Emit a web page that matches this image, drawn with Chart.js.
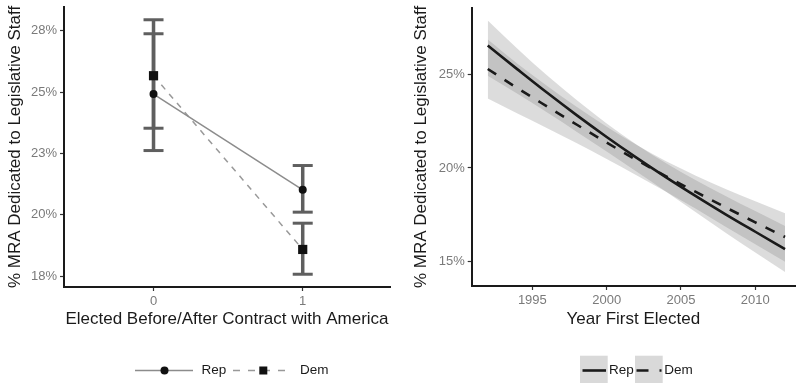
<!DOCTYPE html>
<html>
<head>
<meta charset="utf-8">
<script src="https://cdn.jsdelivr.net/npm/chart.js@4.4.1/dist/chart.umd.min.js"></script>
<style>
  body { margin: 0; background: #fff; }
  canvas { position: absolute; top: 0; }
  #left { left: 0; }
  #right { left: 398px; }
</style>
</head>
<body>
<canvas id="left" width="398" height="383"></canvas>
<canvas id="right" width="398" height="383"></canvas>
<script>
// left panel: before/after Contract with America (0 / 1)
const groups = [0, 1]
const repMean = [24.92, 21.02]
const repLow = [22.62, 20.11]
const repHigh = [27.38, 22.01]
const demMean = [25.67, 18.59]
const demLow = [23.53, 17.58]
const demHigh = [27.95, 19.66]
const leftTicks = [17.5, 20, 22.5, 25, 27.5]
const leftTickLabels = ['18%', '20%', '23%', '25%', '28%']

// right panel: by year first elected
const years = [1992, 1994, 1996, 1998, 2000, 2002, 2004, 2006, 2008, 2010, 2012]
const repFit = [26.52, 25.25, 24.0, 22.8, 21.65, 20.55, 19.5, 18.5, 17.53, 16.6, 15.68]
const repUpper = [27.86, 26.35, 24.92, 23.6, 22.37, 21.25, 20.25, 19.35, 18.51, 17.7, 16.91]
const repLower = [24.91, 23.95, 22.95, 21.92, 20.87, 19.81, 18.73, 17.64, 16.55, 15.5, 14.46]
const demFit = [25.27, 24.25, 23.27, 22.3, 21.35, 20.43, 19.55, 18.72, 17.9, 17.1, 16.32]
const demUpper = [26.84, 25.55, 24.37, 23.25, 22.2, 21.23, 20.35, 19.59, 18.88, 18.22, 17.59]
const demLower = [23.7, 22.9, 22.12, 21.32, 20.48, 19.61, 18.73, 17.82, 16.87, 15.93, 15.0]
const yearTicks = [1995, 2000, 2005, 2010]
const rightTicks = [15, 20, 25]
const rightTickLabels = ['15%', '20%', '25%']

const FONT = "'Liberation Sans', Arial, sans-serif"
const TITLE = '% MRA Dedicated to Legislative Staff'
const ERR = '#5f5f5f'
const BAND = 'rgba(128,128,128,0.28)'

const axisBase = (tickValues, labels) => ({
  type: 'linear',
  afterBuildTicks: s => { s.ticks = tickValues.map(v => ({ value: v })) },
  grid: { drawOnChartArea: false, drawTicks: true, tickLength: 4, tickColor: '#333', tickWidth: 1.2 },
  border: { display: true, color: '#1a1a1a', width: 2 },
  ticks: {
    color: '#7a7a7a', font: { family: FONT, size: 13 }, padding: 3,
    callback: v => labels ? labels[tickValues.indexOf(v)] : String(v)
  }
})

const toPoints = (xs, ys) => xs.map((x, i) => ({ x: x, y: ys[i] }))

const errorBars = (lo, hi) => groups.map((g, i) => ({
  data: [{ x: g, y: lo[i] }, { x: g, y: hi[i] }],
  showLine: true,
  borderColor: ERR,
  borderWidth: 3.5,
  pointStyle: 'line',
  pointRadius: 10,
  pointHoverRadius: 10,
  pointBorderWidth: 3,
  pointBorderColor: ERR
}))

function text (ctx, str, x, y) {
  ctx.fillStyle = '#1a1a1a'
  ctx.font = '13.5px ' + FONT
  ctx.textAlign = 'left'
  ctx.textBaseline = 'middle'
  ctx.fillText(str, x, y)
}

const leftLegend = {
  id: 'leftLegend',
  afterDraw (chart) {
    const ctx = chart.ctx
    const y = 370.5
    ctx.save()
    ctx.lineWidth = 1.5
    ctx.strokeStyle = '#8c8c8c'
    ctx.beginPath(); ctx.moveTo(135, y); ctx.lineTo(193, y); ctx.stroke()
    ctx.fillStyle = '#111'
    ctx.beginPath(); ctx.arc(164.5, y, 4, 0, Math.PI * 2); ctx.fill()
    text(ctx, 'Rep', 201.5, y)
    ctx.strokeStyle = '#999'
    ctx.setLineDash([7, 8])
    ctx.beginPath(); ctx.moveTo(233, y); ctx.lineTo(286, y); ctx.stroke()
    ctx.setLineDash([])
    ctx.fillStyle = '#111'
    ctx.fillRect(259.3, y - 4, 8, 8)
    text(ctx, 'Dem', 300, y)
    ctx.restore()
  }
}

const rightLegend = {
  id: 'rightLegend',
  afterDraw (chart) {
    const ctx = chart.ctx
    const y = 370.5
    ctx.save()
    ctx.fillStyle = '#d9d9d9'
    ctx.fillRect(182, 355.7, 27.7, 27.3)
    ctx.fillRect(237, 355.7, 27.7, 27.3)
    ctx.strokeStyle = '#1a1a1a'
    ctx.lineWidth = 2.6
    ctx.beginPath(); ctx.moveTo(184.5, y); ctx.lineTo(208, y); ctx.stroke()
    ctx.setLineDash([12, 11])
    ctx.beginPath(); ctx.moveTo(238.5, y); ctx.lineTo(263.5, y); ctx.stroke()
    ctx.setLineDash([])
    text(ctx, 'Rep', 211, y)
    text(ctx, 'Dem', 266.3, y)
    ctx.restore()
  }
}

new Chart('left', {
  type: 'scatter',
  data: {
    datasets: [
      {
        label: 'Rep',
        data: toPoints(groups, repMean),
        showLine: true,
        borderColor: '#8c8c8c',
        borderWidth: 1.5,
        pointStyle: 'circle',
        pointRadius: 4,
        pointHoverRadius: 4,
        pointBorderWidth: 0,
        pointBackgroundColor: '#111'
      },
      {
        label: 'Dem',
        data: toPoints(groups, demMean),
        showLine: true,
        borderColor: '#999',
        borderWidth: 1.5,
        borderDash: [6, 6],
        pointStyle: 'rect',
        pointRadius: 6.5,
        pointHoverRadius: 6.5,
        pointBorderWidth: 0,
        pointBackgroundColor: '#111'
      },
      ...errorBars(repLow, repHigh),
      ...errorBars(demLow, demHigh)
    ]
  },
  options: {
    responsive: false,
    animation: false,
    devicePixelRatio: 1,
    layout: { autoPadding: false, padding: { left: 0, right: 8, top: 7, bottom: 53 } },
    plugins: { legend: { display: false }, tooltip: { enabled: false } },
    scales: {
      x: {
        ...axisBase(groups),
        min: -0.6,
        max: 1.585,
        afterFit: s => { s.height = 43; s.paddingLeft = 0; s.paddingRight = 0 },
        title: { display: true, text: 'Elected Before/After Contract with America', color: '#1a1a1a', font: { family: FONT, size: 17 }, padding: { top: 0, bottom: 0 } }
      },
      y: {
        ...axisBase(leftTicks, leftTickLabels),
        min: 17.06,
        max: 28.47,
        afterFit: s => { s.width = 64; s.paddingTop = 0; s.paddingBottom = 0 },
        title: { display: true, text: TITLE, color: '#1a1a1a', font: { family: FONT, size: 17 }, padding: { top: 5, bottom: 0 } }
      }
    }
  },
  plugins: [leftLegend]
})

const band = (upper, lower, fillIndex) => [
  { data: toPoints(years, upper), borderWidth: 0, pointRadius: 0, fill: false, cubicInterpolationMode: 'monotone' },
  { data: toPoints(years, lower), borderWidth: 0, pointRadius: 0, fill: fillIndex, backgroundColor: BAND, cubicInterpolationMode: 'monotone' }
]

new Chart('right', {
  type: 'line',
  data: {
    datasets: [
      { label: 'Rep', data: toPoints(years, repFit), borderColor: '#1a1a1a', borderWidth: 2.6, pointRadius: 0, fill: false, cubicInterpolationMode: 'monotone' },
      { label: 'Dem', data: toPoints(years, demFit), borderColor: '#1a1a1a', borderWidth: 2.6, borderDash: [10, 10], pointRadius: 0, fill: false, cubicInterpolationMode: 'monotone' },
      ...band(repUpper, repLower, 2),
      ...band(demUpper, demLower, 4)
    ]
  },
  options: {
    responsive: false,
    animation: false,
    devicePixelRatio: 1,
    layout: { autoPadding: false, padding: { left: 0, right: 1, top: 8, bottom: 53 } },
    plugins: { legend: { display: false }, tooltip: { enabled: false } },
    scales: {
      x: {
        ...axisBase(yearTicks),
        min: 1990.92,
        max: 2012.67,
        afterFit: s => { s.height = 44; s.paddingLeft = 0; s.paddingRight = 0 },
        title: { display: true, text: 'Year First Elected', color: '#1a1a1a', font: { family: FONT, size: 17 }, padding: { top: 0, bottom: 0 } }
      },
      y: {
        ...axisBase(rightTicks, rightTickLabels),
        min: 13.71,
        max: 28.52,
        afterFit: s => { s.width = 73.7; s.paddingTop = 0; s.paddingBottom = 0 },
        title: { display: true, text: TITLE, color: '#1a1a1a', font: { family: FONT, size: 17 }, padding: { top: 13, bottom: 0 } }
      }
    }
  },
  plugins: [rightLegend]
})
</script>
</body>
</html>
